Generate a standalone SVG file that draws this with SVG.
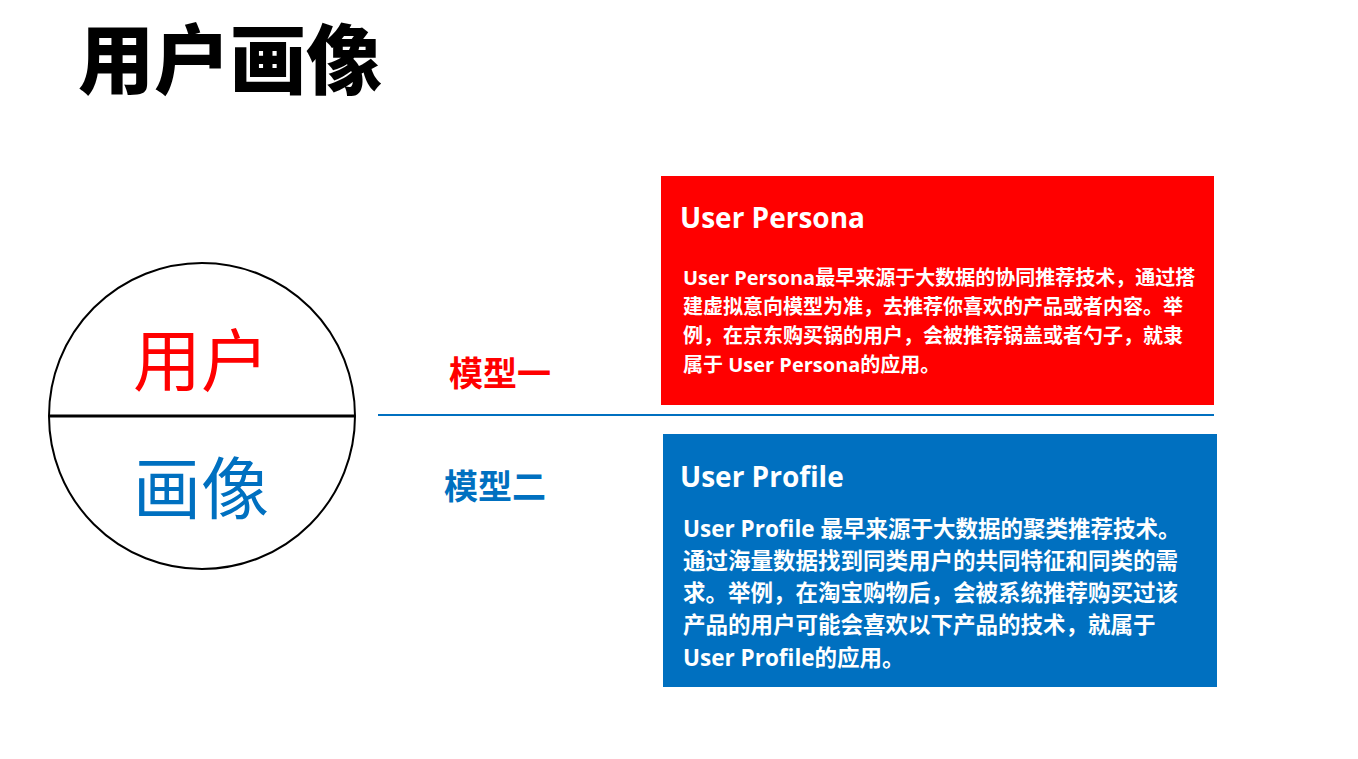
<svg xmlns="http://www.w3.org/2000/svg" width="1358" height="759" viewBox="0 0 1358 759">
<style>
.cjk{font-family:"Open Sans","Noto Sans CJK SC",sans-serif}
.title{font-family:"Noto Sans CJK SC",sans-serif;font-weight:900;font-size:76px;fill:#000}
.big{font-family:"Noto Sans CJK SC",sans-serif;font-size:68px;text-anchor:middle}
.model{font-family:"Noto Sans CJK SC",sans-serif;font-weight:700;font-size:34px}
.head{font-weight:700;font-size:28px;fill:#fff}
.bodyR{font-weight:700;font-size:20px;fill:#fff}
.bodyB{font-weight:700;font-size:22.5px;fill:#fff}
.red{fill:#FF0000}
.blue{fill:#0070C0}
</style>
<rect width="1358" height="759" fill="#fff"/>
<text class="title" x="78" y="88">用户画像</text>
<g id="circle">
<circle cx="202" cy="416" r="153" fill="#fff" stroke="#000" stroke-width="2"/>
<line x1="49" y1="416" x2="355" y2="416" stroke="#000" stroke-width="3"/>
<text class="big red" x="201" y="386">用户</text>
<text class="big blue" x="201" y="514">画像</text>
</g>
<g id="connectors">
<line x1="378" y1="415" x2="1214" y2="415" stroke="#0070C0" stroke-width="2"/>
</g>
<g id="model1"><text class="model red" x="449" y="386">模型一</text></g>
<g id="model2"><text class="model blue" x="444" y="499">模型二</text></g>
<g id="persona">
<rect x="661" y="176" width="553" height="229" fill="#FF0000"/>
<text class="cjk head" x="680" y="228">User Persona</text>
<text class="cjk bodyR" x="683" y="285">User Persona最早来源于大数据的协同推荐技术，通过搭</text>
<text class="cjk bodyR" x="683" y="314">建虚拟意向模型为准，去推荐你喜欢的产品或者内容。举</text>
<text class="cjk bodyR" x="683" y="343">例，在京东购买锅的用户，会被推荐锅盖或者勺子，就隶</text>
<text class="cjk bodyR" x="683" y="372">属于 User Persona的应用。</text>
</g>
<g id="profile">
<rect x="663" y="434" width="554" height="253" fill="#0070C0"/>
<text class="cjk head" x="680" y="487">User Profile</text>
<text class="cjk bodyB" x="683" y="537">User Profile 最早来源于大数据的聚类推荐技术。</text>
<text class="cjk bodyB" x="683" y="569">通过海量数据找到同类用户的共同特征和同类的需</text>
<text class="cjk bodyB" x="683" y="601">求。举例，在淘宝购物后，会被系统推荐购买过该</text>
<text class="cjk bodyB" x="683" y="633">产品的用户可能会喜欢以下产品的技术，就属于</text>
<text class="cjk bodyB" x="683" y="666">User Profile的应用。</text>
</g>
</svg>
